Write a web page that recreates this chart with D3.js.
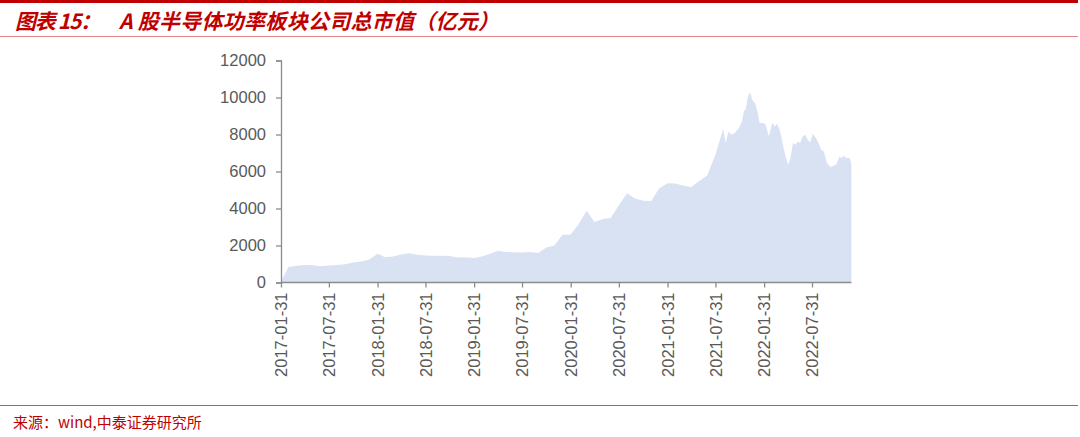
<!DOCTYPE html>
<html>
<head>
<meta charset="utf-8">
<script src="https://cdn.jsdelivr.net/npm/d3@7"></script>
<style>
  html, body { margin: 0; padding: 0; background: #fff; }
  svg { display: block; }
</style>
</head>
<body>
<svg id="chart" width="1080" height="437"></svg>
<script>
// Monthly market cap (亿元), month-ends from 2017-01 to 2021-07
const monthlyStart = "2017-01-31";
const monthlyValues = [
  60, 840, 900, 950, 930, 880, 920, 950, 990, 1085, 1140, 1250,
  1560, 1360, 1410, 1510, 1580, 1500, 1460, 1445, 1445, 1430, 1350, 1370,
  1320, 1410, 1540, 1710, 1645, 1640, 1620, 1645, 1600, 1890, 2000, 2580,
  2600, 3130, 3880, 3270, 3430, 3480, 4170, 4830, 4540, 4415, 4400, 5100,
  5370, 5350, 5250, 5160, 5490, 5785, 6900
];

// Higher-frequency observations after 2021-07
const dailyDates = [
  "2021-08-29", "2021-09-08", "2021-09-18", "2021-09-30", "2021-10-12", "2021-10-28",
  "2021-11-08", "2021-11-16", "2021-11-22", "2021-12-01", "2021-12-09", "2021-12-18",
  "2021-12-28", "2022-01-06", "2022-01-14", "2022-01-30", "2022-02-06", "2022-02-18",
  "2022-03-03", "2022-03-13", "2022-03-21", "2022-03-31", "2022-04-19", "2022-05-01",
  "2022-05-10", "2022-05-20", "2022-05-30", "2022-06-07", "2022-06-16", "2022-06-26",
  "2022-07-05", "2022-07-15", "2022-07-24", "2022-08-03", "2022-08-12", "2022-08-22",
  "2022-09-04", "2022-09-14", "2022-09-25", "2022-10-09", "2022-10-20", "2022-10-30",
  "2022-11-12", "2022-11-20", "2022-11-28", "2022-12-08", "2022-12-21", "2022-12-27"
];
const dailyValues = [
  8295, 7535, 8160, 7985, 8075, 8345,
  8700, 9300, 9335, 10055, 10290, 9840,
  9695, 9245, 8615, 8615, 8525, 7890,
  8615, 8435, 8580, 8255, 6995, 6365,
  6670, 7535, 7445, 7620, 7535, 7890,
  7985, 7715, 7570, 8040, 7860, 7620,
  7175, 7080, 6455, 6240, 6310, 6365,
  6810, 6725, 6850, 6725, 6725, 6365
];

const tickLabels = [
  "2017-01-31", "2017-07-31", "2018-01-31", "2018-07-31", "2019-01-31", "2019-07-31",
  "2020-01-31", "2020-07-31", "2021-01-31", "2021-07-31", "2022-01-31", "2022-07-31"
];
const yTicks = [0, 2000, 4000, 6000, 8000, 10000, 12000];

const titleLead = "图表 15：";
const titleMain = "A 股半导体功率板块公司总市值（亿元）";
const sourceText = "来源：wind,中泰证券研究所";

const parse = d3.utcParse("%Y-%m-%d");
const fmt = d3.utcFormat("%Y-%m-%d");

// Month-end dates for the monthly block
const start = parse(monthlyStart);
const monthly = monthlyValues.map((v, i) => {
  const d = d3.utcDay.offset(d3.utcMonth.offset(d3.utcMonth.floor(start), i + 1), -1);
  return { date: d, value: v };
});
const daily = dailyDates.map((d, i) => ({ date: parse(d), value: dailyValues[i] }));
const data = monthly.concat(daily);

const svg = d3.select("#chart");
const red = "#C00000";

// Header / footer rules and text
svg.append("rect").attr("x", 0).attr("y", 0).attr("width", 1078).attr("height", 3).attr("fill", red);
svg.append("rect").attr("x", 0).attr("y", 36).attr("width", 1078).attr("height", 1).attr("fill", "#E58A8A");
svg.append("rect").attr("x", 0).attr("y", 405).attr("width", 1078).attr("height", 1).attr("fill", "#D84C4C");

const titleFont = "'Noto Sans CJK SC', 'Noto Sans', sans-serif";
svg.append("text")
  .attr("x", 15).attr("y", 29)
  .attr("font-family", titleFont)
  .attr("font-size", 21).attr("font-weight", 700).attr("font-style", "italic")
  .attr("fill", red)
  .attr("textLength", 86).attr("lengthAdjust", "spacing")
  .text(titleLead);
svg.append("text")
  .attr("x", 119).attr("y", 29)
  .attr("font-family", titleFont)
  .attr("font-size", 21).attr("font-weight", 700).attr("font-style", "italic")
  .attr("fill", red)
  .attr("textLength", 380).attr("lengthAdjust", "spacing")
  .text(titleMain);

svg.append("text")
  .attr("x", 13).attr("y", 428)
  .attr("font-family", titleFont)
  .attr("font-size", 15)
  .attr("fill", red)
  .text(sourceText);

// Scales
const x = d3.scaleUtc()
  .domain([parse(tickLabels[0]), parse(tickLabels[tickLabels.length - 1])])
  .range([281, 812]);
const y = d3.scaleLinear().domain([0, 12000]).range([282.5, 60.5]);

// Area
const area = d3.area()
  .x(d => x(d.date))
  .y0(y(0))
  .y1(d => y(d.value));
svg.append("path")
  .datum(data)
  .attr("d", area)
  .attr("fill", "#D9E2F3");

const axisColor = "#8C8C8C";
const labelColor = "#595959";
const labelFont = "'Liberation Sans', Arial, sans-serif";

// Y axis
const yAxis = svg.append("g")
  .attr("transform", "translate(281,0)")
  .call(d3.axisLeft(y).tickValues(yTicks).tickSize(5).tickPadding(10).tickFormat(d3.format("d")));
yAxis.select(".domain").attr("stroke", axisColor).attr("stroke-width", 1.3);
yAxis.selectAll(".tick line").attr("stroke", axisColor).attr("stroke-width", 1.3);
yAxis.selectAll(".tick text")
  .attr("font-family", labelFont).attr("font-size", 16.5).attr("fill", labelColor);

// X axis
const xEnd = x(data[data.length - 1].date);
const xAxis = svg.append("g")
  .attr("transform", `translate(0,${y(0)})`)
  .call(d3.axisBottom(x).tickValues(tickLabels.map(parse)).tickSize(5).tickFormat(fmt));
xAxis.select(".domain").remove();
xAxis.append("line")
  .attr("x1", 281).attr("x2", xEnd)
  .attr("stroke", axisColor).attr("stroke-width", 1.5);
xAxis.selectAll(".tick line").attr("stroke", axisColor).attr("stroke-width", 1.3);
xAxis.selectAll(".tick text")
  .attr("font-family", labelFont).attr("font-size", 16.5).attr("fill", labelColor)
  .attr("transform", "rotate(-90)")
  .attr("text-anchor", "end")
  .attr("x", -10).attr("y", 0).attr("dy", "0.35em");
</script>
</body>
</html>
